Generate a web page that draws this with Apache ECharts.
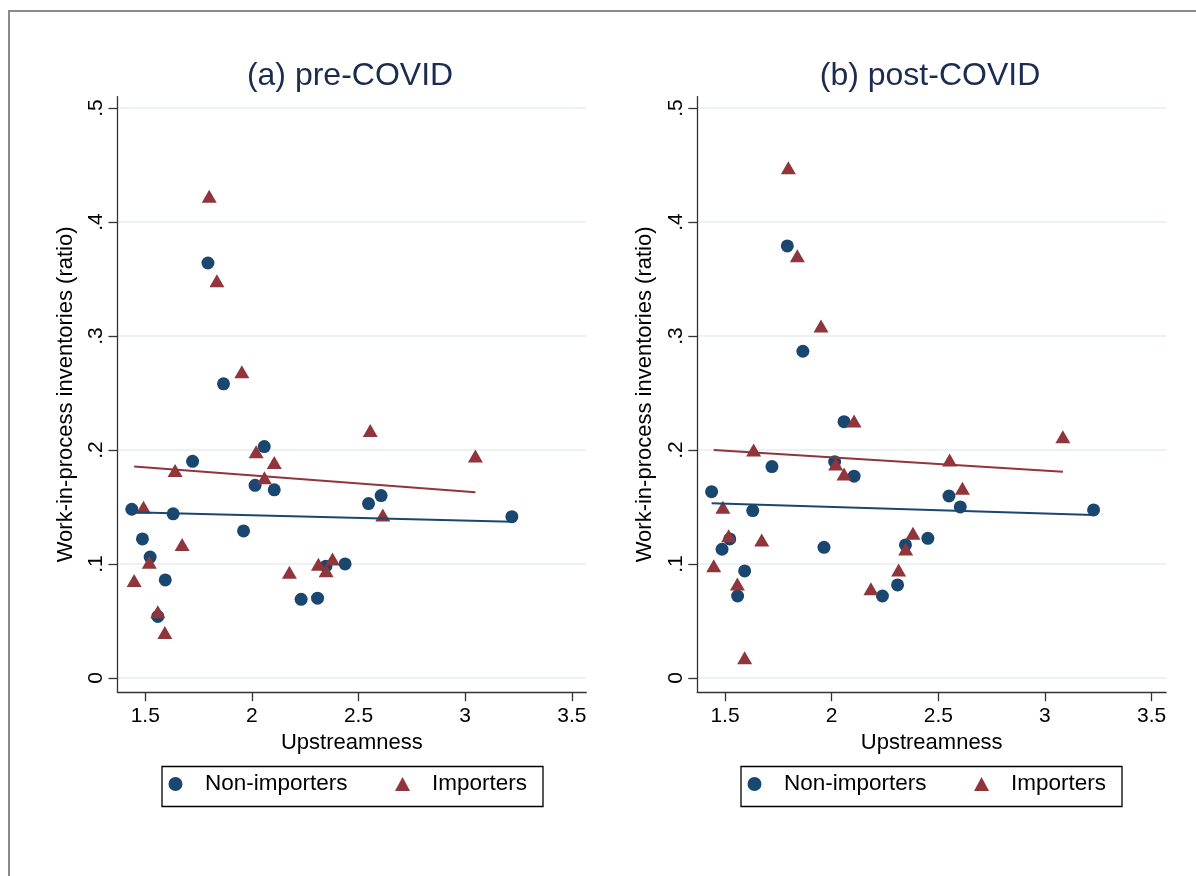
<!DOCTYPE html>
<html>
<head>
<meta charset="utf-8">
<title>Work-in-process inventories and upstreamness</title>
<script src="https://cdn.jsdelivr.net/npm/echarts@6/dist/echarts.min.js"></script>
<style>
  html, body { margin: 0; padding: 0; background: #fff; }
  #chart { width: 1196px; height: 876px; }
</style>
</head>
<body>
<div id="chart"></div>
<script>
const panelTitles = ['(a) pre-COVID', '(b) post-COVID']
const groupNames = ['Non-importers', 'Importers']

const xTicks = [1.5, 2, 2.5, 3, 3.5]
const xTickLabels = ['1.5', '2', '2.5', '3', '3.5']
const yTicks = [0, 0.1, 0.2, 0.3, 0.4, 0.5]
const yTickLabels = ['0', '.1', '.2', '.3', '.4', '.5']

// [upstreamness, WIP ratio]
const preNonImporters = [
  [1.437, 0.148], [1.487, 0.122], [1.523, 0.106], [1.559, 0.054], [1.594, 0.086],
  [1.631, 0.144], [1.722, 0.190], [1.794, 0.364], [1.867, 0.258], [1.961, 0.129],
  [2.015, 0.169], [2.058, 0.203], [2.105, 0.165], [2.231, 0.069], [2.308, 0.070],
  [2.347, 0.098], [2.437, 0.100], [2.547, 0.153], [2.606, 0.160], [3.219, 0.1415],
]
const preImporters = [
  [1.448, 0.0854], [1.492, 0.1497], [1.519, 0.1015], [1.559, 0.058], [1.592, 0.0398],
  [1.640, 0.182], [1.673, 0.117], [1.800, 0.4225], [1.836, 0.3485], [1.953, 0.2687],
  [2.020, 0.1985], [2.059, 0.1757], [2.105, 0.189], [2.176, 0.0927], [2.312, 0.0997],
  [2.348, 0.094], [2.378, 0.1044], [2.555, 0.217], [2.614, 0.143], [3.048, 0.1947],
]
const postNonImporters = [
  [1.437, 0.1634], [1.486, 0.1129], [1.522, 0.122], [1.559, 0.0719], [1.592, 0.0939],
  [1.630, 0.1468], [1.720, 0.1854], [1.792, 0.379], [1.865, 0.2866], [1.964, 0.1146],
  [2.014, 0.1897], [2.058, 0.2248], [2.105, 0.177], [2.238, 0.0719], [2.309, 0.0816],
  [2.346, 0.1167], [2.451, 0.1225], [2.550, 0.1596], [2.603, 0.150], [3.228, 0.1474],
]
const postImporters = [
  [1.447, 0.0985], [1.490, 0.1497], [1.517, 0.1248], [1.558, 0.0825], [1.592, 0.0178],
  [1.634, 0.200], [1.672, 0.121], [1.797, 0.4476], [1.839, 0.3704], [1.950, 0.3088],
  [2.019, 0.1877], [2.058, 0.179], [2.105, 0.2254], [2.184, 0.0783], [2.314, 0.0947],
  [2.347, 0.1132], [2.381, 0.1269], [2.553, 0.1912], [2.613, 0.1664], [3.084, 0.2117],
]

// linear fit lines (end points)
const preNonFit = [[1.437, 0.1453], [3.219, 0.137]]
const preImpFit = [[1.448, 0.1855], [3.048, 0.163]]
const postNonFit = [[1.437, 0.1532], [3.228, 0.143]]
const postImpFit = [[1.447, 0.200], [3.084, 0.181]]

const NAVY = '#1a476f'
const MAROON = '#90353b'
const FONT = '"Liberation Sans", Arial, sans-serif'

const panels = [
  { left: 117.5, titleX: 350, legendLeft: 162, non: preNonImporters, imp: preImporters, nonFit: preNonFit, impFit: preImpFit },
  { left: 697.3, titleX: 930, legendLeft: 741, non: postNonImporters, imp: postImporters, nonFit: postNonFit, impFit: postImpFit },
]

const pick = (ticks, labels) => (v) => {
  const i = ticks.findIndex(t => Math.abs(t - v) < 1e-9)
  return i < 0 ? '' : labels[i]
}

const axisLine = { show: true, onZero: false, lineStyle: { color: '#333', width: 1.3 } }

const chart = echarts.init(document.getElementById('chart'), null, { renderer: 'canvas' })

const option = {
  backgroundColor: '#fff',
  textStyle: { fontFamily: FONT },
  animation: false,
  grid: panels.map(p => ({
    left: p.left, top: 96.6, width: 468.8, height: 595.6,
    containLabel: false, outerBoundsMode: 'none',
  })),
  xAxis: panels.map((p, i) => ({
    gridIndex: i,
    type: 'value',
    min: 1.37,
    max: 3.568,
    axisLine,
    axisTick: { show: true, customValues: xTicks, length: 9, lineStyle: { color: '#333', width: 1.3 } },
    axisLabel: { customValues: xTicks, formatter: pick(xTicks, xTickLabels), fontSize: 21, color: '#000', margin: 14, fontFamily: FONT },
    splitLine: { show: false },
    name: 'Upstreamness',
    nameLocation: 'middle',
    nameGap: 39,
    nameTextStyle: { fontSize: 22, color: '#000', fontFamily: FONT },
  })),
  yAxis: panels.map((p, i) => ({
    gridIndex: i,
    type: 'value',
    min: -0.0125,
    max: 0.51,
    axisLine,
    axisTick: { show: true, customValues: yTicks, length: 9, lineStyle: { color: '#333', width: 1.3 } },
    axisLabel: { customValues: yTicks, formatter: pick(yTicks, yTickLabels), rotate: 90, fontSize: 21, color: '#000', margin: 11, fontFamily: FONT },
    splitLine: { show: true, lineStyle: { color: '#e6eef1', width: 1.6 } },
    name: 'Work-in-process inventories (ratio)',
    nameLocation: 'middle',
    nameGap: 41,
    nameTextStyle: { fontSize: 22, color: '#000', fontFamily: FONT },
  })),
  legend: panels.map(p => ({
    left: p.legendLeft + 6.5,
    top: 771,
    orient: 'horizontal',
    padding: 0,
    itemWidth: 15,
    itemHeight: 14,
    itemGap: 47.5,
    selectedMode: false,
    formatter: '{t|{name}}',
    data: [
      { name: groupNames[0], icon: 'circle' },
      { name: groupNames[1], icon: 'triangle' },
    ],
    textStyle: {
      fontSize: 22.5, color: '#000', lineHeight: 26, fontFamily: FONT,
      rich: { t: { fontSize: 22.5, color: '#000', lineHeight: 26, fontFamily: FONT, padding: [0, 0, 0, 17] } },
    },
  })),
  graphic: [
    { type: 'rect', silent: true, shape: { x: 9, y: 11, width: 1200, height: 900 }, style: { fill: 'none', stroke: '#8a8a8a', lineWidth: 2 } },
    ...panels.map(p => ({
      type: 'rect', silent: true,
      shape: { x: p.legendLeft, y: 766.5, width: 381, height: 40 },
      style: { fill: 'none', stroke: '#000', lineWidth: 1.3 },
    })),
    ...panels.map((p, i) => ({
      type: 'text', silent: true, x: p.titleX, y: 76.5,
      style: { text: panelTitles[i], fontSize: 32, fill: '#1c2c50', align: 'center', verticalAlign: 'middle', fontFamily: FONT },
    })),
  ],
  series: panels.flatMap((p, i) => [
    {
      name: groupNames[0], type: 'scatter', xAxisIndex: i, yAxisIndex: i,
      symbol: 'circle', symbolSize: 13, itemStyle: { color: NAVY, opacity: 1 }, data: p.non,
    },
    {
      name: groupNames[1], type: 'scatter', xAxisIndex: i, yAxisIndex: i,
      symbol: 'triangle', symbolSize: [15, 13], itemStyle: { color: MAROON, opacity: 1 }, data: p.imp,
    },
    {
      name: 'fit-non-' + i, type: 'line', xAxisIndex: i, yAxisIndex: i, silent: true,
      symbol: 'none', lineStyle: { color: NAVY, width: 2 }, data: p.nonFit,
    },
    {
      name: 'fit-imp-' + i, type: 'line', xAxisIndex: i, yAxisIndex: i, silent: true,
      symbol: 'none', lineStyle: { color: MAROON, width: 2 }, data: p.impFit,
    },
  ]),
}

chart.setOption(option)
window.addEventListener('resize', () => chart.resize())
</script>
</body>
</html>
